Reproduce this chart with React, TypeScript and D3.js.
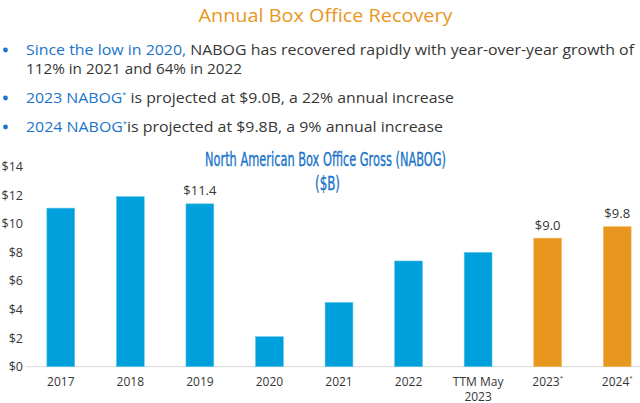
import React from 'react';
import * as d3 from 'd3';

const categories = ['2017', '2018', '2019', '2020', '2021', '2022', 'TTM May|2023', '2023*', '2024*'];
const grossValues = [11.1, 11.9, 11.4, 2.1, 4.5, 7.4, 8.0, 9.0, 9.8];
const projected = [false, false, false, false, false, false, false, true, true];
const valueLabels = ['', '', '$11.4', '', '', '', '', '$9.0', '$9.8'];
const yTicks = [0, 2, 4, 6, 8, 10, 12, 14];

const W = 640;
const H = 403;
const BLUE = '#00a0dc';
const ORANGE = '#e8971e';
const TEXT_BLUE = '#1a74c9';
const DARK = '#363636';
const SANS = "'Open Sans', 'Noto Sans', sans-serif";
const COND = "'DejaVu Sans Condensed', 'Liberation Sans Narrow', sans-serif";

// one text element per label; "|" breaks the line, trailing "*" becomes a small superscript
const Label: React.FC<{ text: string; x: number; y: number; size: number; lineGap?: number }> = ({ text, x, y, size, lineGap = 15 }) => {
  const lines = text.split('|');
  return (
    <text x={x} y={y} textAnchor="middle" fontSize={size} fill={DARK} fontFamily={SANS}>
      {lines.map((l, j) => {
        const star = l.endsWith('*');
        const base = star ? l.slice(0, -1) : l;
        return (
          <React.Fragment key={j}>
            <tspan x={x} y={y + j * lineGap}>{base}</tspan>
            {star && <tspan fontSize={size * 0.5} dy={-size * 0.45}>*</tspan>}
          </React.Fragment>
        );
      })}
    </text>
  );
};

export default function App() {
  React.useEffect(() => {
    document.body.style.margin = '0';
  }, []);

  const x = d3.scaleBand<string>()
    .domain(categories)
    .range([26, 652])
    .paddingInner(0.6)
    .paddingOuter(0.3);

  const y = d3.scaleLinear().domain([0, 14]).range([366.7, 166.7]);

  return (
    <svg width={W} height={H} style={{ display: 'block', background: '#fff' }}>
      <text x={325.5} y={21.5} textAnchor="middle" fontSize={19} fill={ORANGE} fontFamily={SANS}
        textLength={254} lengthAdjust="spacingAndGlyphs">
        Annual Box Office Recovery
      </text>

      {/* bullets */}
      <g fontFamily={SANS} fontSize={15} fill={DARK}>
        {[55, 103, 132].map((by) => (
          <circle key={by} cx={5.5} cy={by - 5} r={2.4} fill={TEXT_BLUE} />
        ))}
        <text x={26} y={55} textLength={608} lengthAdjust="spacingAndGlyphs">
          <tspan fill={TEXT_BLUE}>Since the low in 2020,</tspan> NABOG has recovered rapidly with year-over-year growth of
        </text>
        <text x={26} y={73.5} textLength={216} lengthAdjust="spacingAndGlyphs">112% in 2021 and 64% in 2022</text>
        <text x={26} y={103} textLength={428} lengthAdjust="spacingAndGlyphs">
          <tspan fill={TEXT_BLUE}>2023 NABOG</tspan>
          <tspan fontSize={7} dy={-6} fill={TEXT_BLUE}>*</tspan>
          <tspan dy={6}> is projected at $9.0B, a 22% annual increase</tspan>
        </text>
        <text x={26} y={132} textLength={417} lengthAdjust="spacingAndGlyphs">
          <tspan fill={TEXT_BLUE}>2024 NABOG</tspan>
          <tspan fontSize={7} dy={-6} fill={TEXT_BLUE}>*</tspan>
          <tspan dy={6}>is projected at $9.8B, a 9% annual increase</tspan>
        </text>
      </g>

      {/* chart subtitle */}
      <g fontFamily={COND} fontWeight={500} fill={TEXT_BLUE} stroke={TEXT_BLUE} strokeWidth={0.35}>
        <text x={205} y={166} fontSize={19} textLength={241} lengthAdjust="spacingAndGlyphs">
          North American Box Office Gross (NABOG)
        </text>
        <text x={315} y={189.5} fontSize={19} textLength={25} lengthAdjust="spacingAndGlyphs">($B)</text>
      </g>

      {/* y axis */}
      <g fontFamily={SANS} fontSize={12.5} fill={DARK} textAnchor="end">
        {yTicks.map((t) => (
          <text key={t} x={23} y={y(t) + 4.5}>${t}</text>
        ))}
      </g>
      <line x1={26} x2={W} y1={y(0)} y2={y(0)} stroke="#d9d9d9" strokeWidth={1} />

      {/* bars */}
      {categories.map((c, i) => (
        <rect
          key={c}
          x={x(c)!}
          y={y(grossValues[i])}
          width={x.bandwidth()}
          height={y(0) - y(grossValues[i])}
          fill={projected[i] ? ORANGE : BLUE}
          stroke={projected[i] ? '#f2b860' : '#5cc3ea'}
          strokeWidth={0.6}
        />
      ))}

      {/* value labels */}
      {categories.map((c, i) =>
        valueLabels[i] ? (
          <Label key={c} text={valueLabels[i]} x={x(c)! + x.bandwidth() / 2} y={y(grossValues[i]) - 8.5} size={13} />
        ) : null
      )}

      {/* x labels */}
      {categories.map((c) => (
        <Label key={c} text={c} x={x(c)! + x.bandwidth() / 2} y={385.5} size={12} />
      ))}
    </svg>
  );
}
